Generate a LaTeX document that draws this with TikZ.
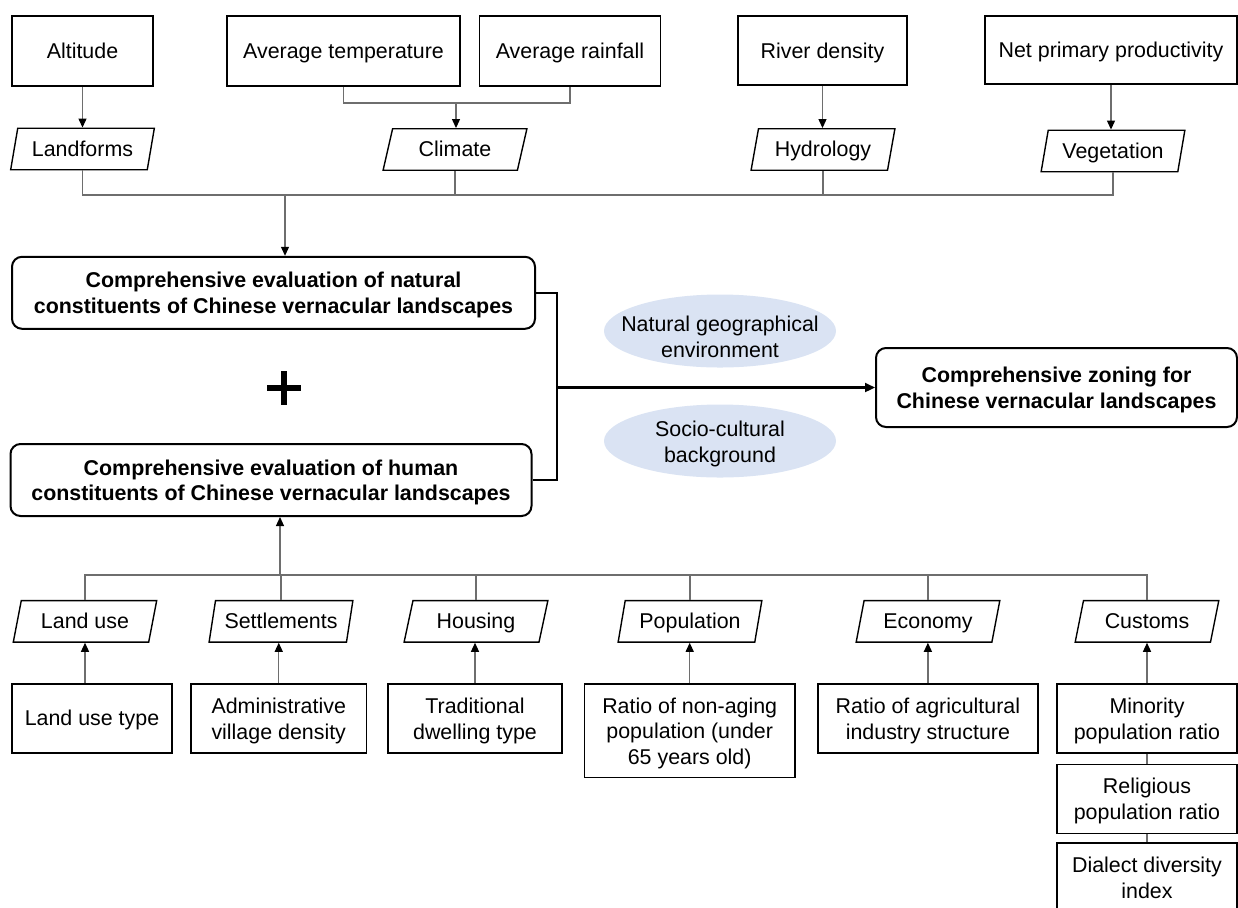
\documentclass[tikz,border=0pt]{standalone}
\usepackage{fontspec}
\setmainfont{Liberation Sans}
\usetikzlibrary{arrows.meta,shapes.geometric,calc}
\definecolor{ellfill}{RGB}{218,227,243}
\definecolor{conngray}{RGB}{110,110,110}
\begin{document}
\begin{tikzpicture}[x=0.5pt,y=-0.5pt,
  font=\fontsize{10.7}{12.85}\selectfont,
  lone/.style={text height=9.9pt, text depth=2.27pt},
  ltwo/.style={text height=23pt, text depth=2.27pt},
  lthree/.style={text height=35.9pt, text depth=2.27pt},
  rbox/.style 2 args={draw, line width=0.8pt, rectangle, align=center, inner sep=0pt,
    minimum width=#1*0.5pt, minimum height=#2*0.5pt},
  bbox/.style 2 args={draw, line width=1pt, rounded corners=5pt, align=center, inner sep=0pt,
    minimum width=#1*0.5pt, minimum height=#2*0.5pt,
    font=\fontsize{10.7}{12.85}\selectfont\bfseries},
  para/.style={draw, line width=0.7pt, trapezium, trapezium left angle=77, trapezium right angle=103,
    trapezium stretches=true, minimum width=72pt, minimum height=20.75pt, inner sep=0pt,
    text height=9.7pt, text depth=2.27pt},
  ell/.style={ellipse, fill=ellfill, align=center, inner xsep=-10pt, inner ysep=-6pt,
    minimum width=116pt, minimum height=36.5pt},
  conn/.style={draw=conngray, line width=0.6pt},
  arr/.style={conn, -{Triangle[length=4.5pt,width=4pt,fill=black,color=black]}},
  main/.style={draw=black, line width=1.1pt},
]
\useasboundingbox (0,0) rectangle (1238,907);

% top indicator boxes
\node[rbox={141}{70}, lone] (alt) at (82.5,51) {Altitude};
\node[rbox={233}{70}, lone] (temp) at (343.5,51) {Average temperature};
\node[rbox={181}{70}, lone] (rain) at (570,51) {Average rainfall};
\node[rbox={169}{69}, lone] (river) at (822.5,50.5) {River density};
\node[rbox={252}{68}, lone] (npp) at (1111,50) {Net primary productivity};

% top parallelograms
\node[para] (land) at (82.5,149) {Landforms};
\node[para] (clim) at (455,149.5) {Climate};
\node[para] (hyd) at (823,149.5) {Hydrology};
\node[para] (veg) at (1113,151) {Vegetation};

% central boxes
\node[bbox={523}{72}, ltwo] (nat) at (273.5,292.8) {Comprehensive evaluation of natural\\constituents of Chinese vernacular landscapes};
\node[bbox={521}{72}, ltwo] (hum) at (271,480) {Comprehensive evaluation of human\\constituents of Chinese vernacular landscapes};
\node[bbox={361}{79}, ltwo] (zon) at (1056.5,387.5) {Comprehensive zoning for\\Chinese vernacular landscapes};

\node[ell, text height=28.6pt, text depth=2pt] (e1) at (720,331) {Natural geographical\\environment};
\node[ell, text height=23.5pt, text depth=2.3pt] (e2) at (720,441) {Socio-cultural\\background};

% plus sign
\draw[line width=2.6pt] (267,388) -- (301,388) (284,371) -- (284,405);

% bottom parallelograms
\node[para] (lu) at (85,621.3) {Land use};
\node[para] (set) at (281,621.3) {Settlements};
\node[para] (hou) at (476,621.3) {Housing};
\node[para] (pop) at (690,621.3) {Population};
\node[para] (eco) at (928,621.3) {Economy};
\node[para] (cus) at (1147,621.3) {Customs};

% bottom indicator boxes
\node[rbox={160}{69}, lone] (lut) at (92,718.3) {Land use type};
\node[rbox={175.5}{69}, ltwo] (avd) at (278.75,718.3) {Administrative\\village density};
\node[rbox={174}{69}, ltwo] (tdt) at (475,718.3) {Traditional\\dwelling type};
\node[rbox={210.6}{93.7}, lthree] (nap) at (689.7,730.8) {Ratio of non-aging\\population (under\\65 years old)};
\node[rbox={220.3}{69}, ltwo] (agr) at (927.9,718.3) {Ratio of agricultural\\industry structure};
\node[rbox={180}{69}, ltwo] (min) at (1147,718.3) {Minority\\population ratio};
\node[rbox={180}{69}, ltwo] (rel) at (1147,798.8) {Religious\\population ratio};
\node[rbox={180}{69}, ltwo] (dia) at (1147,877.6) {Dialect diversity\\index};

% junction coordinates
\coordinate (cj) at (456,103);
\coordinate (nj) at (285,195);
\coordinate (j) at (557,387.5);
\coordinate (bj) at (280,575);

% top connectors
\draw[arr] (alt.south) -- (alt.south |- land.north);
\draw[conn] (temp.south) |- (cj) -| (rain.south);
\draw[arr] (cj) -- (cj |- clim.north);
\draw[arr] (river.south) -- (river.south |- hyd.north);
\draw[arr] (npp.south) -- (npp.south |- veg.north);

\draw[conn] (land.south) |- (veg.south |- nj) -- (veg.south);
\draw[conn] (clim.south) -- (clim.south |- nj);
\draw[conn] (hyd.south) -- (hyd.south |- nj);
\draw[arr] (nj) -- (nj |- nat.north);

% main connector
\draw[main] (nat.east) -| (j) |- (hum.east);
\draw[main, -{Triangle[length=5pt,width=4.5pt]}] (j) -- (zon.west);

% bottom connectors
\draw[arr] (bj) -- (bj |- hum.south);
\draw[conn] (lu.north) |- (cus.north |- bj) -- (cus.north);
\draw[conn] (set.north) -- (set.north |- bj);
\draw[conn] (hou.north) -- (hou.north |- bj);
\draw[conn] (pop.north) -- (pop.north |- bj);
\draw[conn] (eco.north) -- (eco.north |- bj);

\draw[arr] (lu.south |- lut.north) -- (lu.south);
\draw[arr] (avd.north) -- (avd.north |- set.south);
\draw[arr] (tdt.north) -- (tdt.north |- hou.south);
\draw[arr] (nap.north) -- (nap.north |- pop.south);
\draw[arr] (agr.north) -- (agr.north |- eco.south);
\draw[arr] (min.north) -- (min.north |- cus.south);
\draw[conn] (min.south) -- (rel.north);
\draw[conn] (rel.south) -- (dia.north);
\end{tikzpicture}
\end{document}
